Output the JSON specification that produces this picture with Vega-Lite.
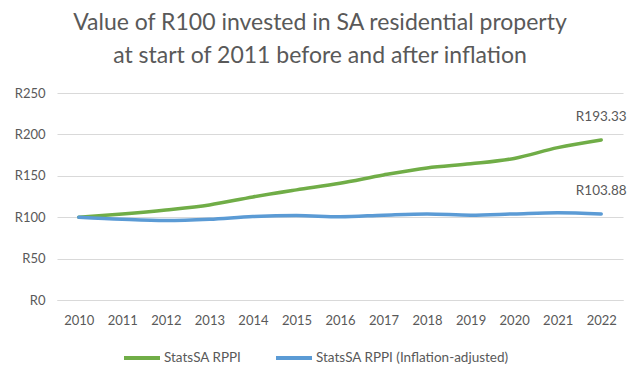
{
  "$schema": "https://vega.github.io/schema/vega-lite/v6.json",
  "width": 566,
  "height": 207,
  "autosize": {"type": "none"},
  "padding": {"left": 57, "top": 93, "right": 17, "bottom": 77},
  "background": "white",
  "title": {
    "text": ["Value of R100 invested in SA residential property", "at start of 2011 before and after inflation"],
    "anchor": "middle",
    "dx": -20,
    "offset": 19,
    "fontSize": 23,
    "fontWeight": "normal",
    "font": "Lato",
    "color": "#595959",
    "lineHeight": 33
  },
  "data": {
    "values": [
      {"year": "2010", "series": "StatsSA RPPI", "value": 100},
      {"year": "2011", "series": "StatsSA RPPI", "value": 104},
      {"year": "2012", "series": "StatsSA RPPI", "value": 108.8},
      {"year": "2013", "series": "StatsSA RPPI", "value": 114.8},
      {"year": "2014", "series": "StatsSA RPPI", "value": 124.5},
      {"year": "2015", "series": "StatsSA RPPI", "value": 133},
      {"year": "2016", "series": "StatsSA RPPI", "value": 141},
      {"year": "2017", "series": "StatsSA RPPI", "value": 151},
      {"year": "2018", "series": "StatsSA RPPI", "value": 159.5},
      {"year": "2019", "series": "StatsSA RPPI", "value": 164.5},
      {"year": "2020", "series": "StatsSA RPPI", "value": 171},
      {"year": "2021", "series": "StatsSA RPPI", "value": 184},
      {"year": "2022", "series": "StatsSA RPPI", "value": 193.33},
      {"year": "2010", "series": "StatsSA RPPI (Inflation-adjusted)", "value": 100},
      {"year": "2011", "series": "StatsSA RPPI (Inflation-adjusted)", "value": 97.5},
      {"year": "2012", "series": "StatsSA RPPI (Inflation-adjusted)", "value": 96},
      {"year": "2013", "series": "StatsSA RPPI (Inflation-adjusted)", "value": 97.5},
      {"year": "2014", "series": "StatsSA RPPI (Inflation-adjusted)", "value": 100.8},
      {"year": "2015", "series": "StatsSA RPPI (Inflation-adjusted)", "value": 102},
      {"year": "2016", "series": "StatsSA RPPI (Inflation-adjusted)", "value": 100.5},
      {"year": "2017", "series": "StatsSA RPPI (Inflation-adjusted)", "value": 102.5},
      {"year": "2018", "series": "StatsSA RPPI (Inflation-adjusted)", "value": 104},
      {"year": "2019", "series": "StatsSA RPPI (Inflation-adjusted)", "value": 102.4},
      {"year": "2020", "series": "StatsSA RPPI (Inflation-adjusted)", "value": 104},
      {"year": "2021", "series": "StatsSA RPPI (Inflation-adjusted)", "value": 105.5},
      {"year": "2022", "series": "StatsSA RPPI (Inflation-adjusted)", "value": 103.88}
    ]
  },
  "encoding": {
    "x": {
      "field": "year",
      "type": "ordinal",
      "scale": {"type": "point", "padding": 0.5},
      "axis": {
        "title": null,
        "labelAngle": 0,
        "ticks": false,
        "domainColor": "#D9D9D9",
        "labelPadding": 14,
        "labelFontSize": 13,
        "labelColor": "#595959",
        "labelFont": "Lato",
        "grid": false
      }
    },
    "y": {
      "field": "value",
      "type": "quantitative",
      "scale": {"domain": [0, 250]},
      "axis": {
        "title": null,
        "values": [0, 50, 100, 150, 200, 250],
        "labelExpr": "'R' + datum.label",
        "ticks": false,
        "domain": false,
        "gridColor": "#D9D9D9",
        "labelPadding": 12,
        "labelFontSize": 13,
        "labelColor": "#595959",
        "labelFont": "Lato"
      }
    }
  },
  "layer": [
    {
      "mark": {"type": "line", "interpolate": "monotone", "strokeWidth": 3.5, "strokeCap": "round"},
      "encoding": {
        "color": {
          "field": "series",
          "type": "nominal",
          "scale": {"domain": ["StatsSA RPPI", "StatsSA RPPI (Inflation-adjusted)"], "range": ["#70AD47", "#5B9BD5"]},
          "legend": {
            "title": null,
            "orient": "none",
            "direction": "horizontal",
            "legendX": 65,
            "legendY": 245,
            "symbolType": "stroke",
            "symbolSize": 1296,
            "symbolStrokeWidth": 4,
            "labelFontSize": 13.5,
            "labelColor": "#595959",
            "labelFont": "Lato",
            "labelOffset": 2,
            "labelLimit": 0,
            "columnPadding": 26
          }
        }
      }
    },
    {
      "transform": [
        {"filter": "datum.year == '2022'"},
        {"calculate": "'R' + format(datum.value, '.2f')", "as": "label"}
      ],
      "mark": {"type": "text", "dy": -23, "align": "center", "baseline": "middle", "fontSize": 13.5, "font": "Lato", "color": "#595959"},
      "encoding": {"text": {"field": "label"}}
    }
  ],
  "config": {"view": {"stroke": null}}
}
